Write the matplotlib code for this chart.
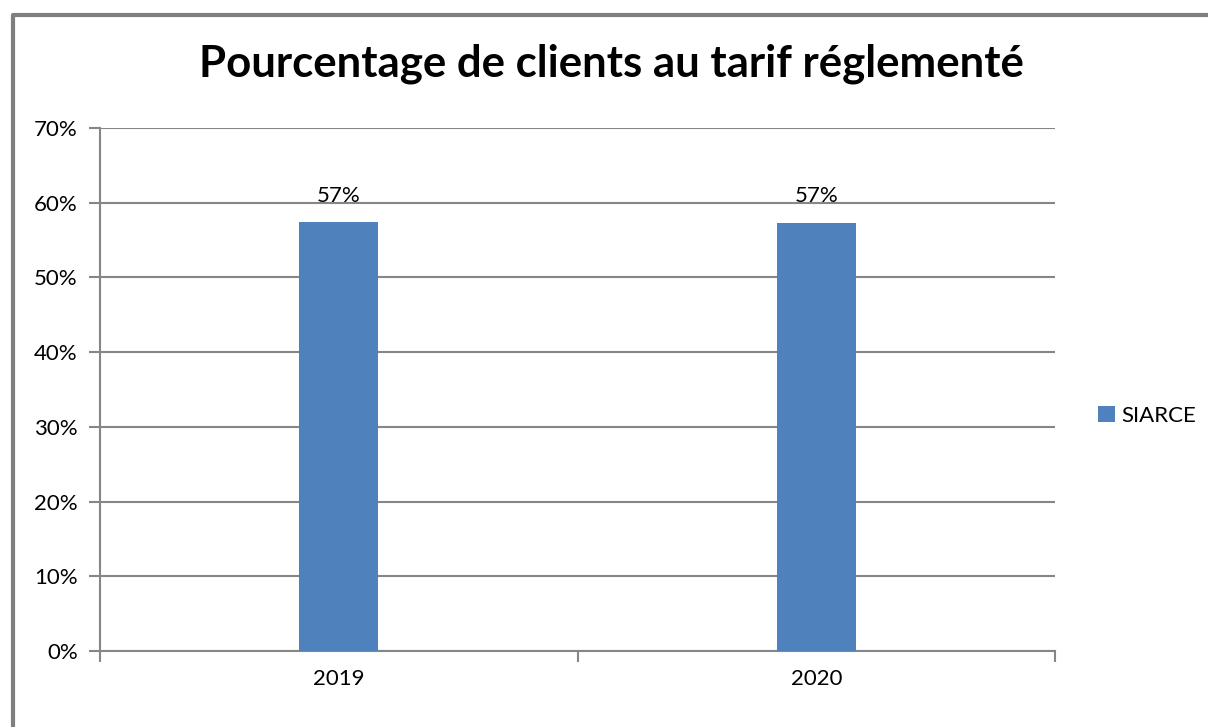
import matplotlib.pyplot as plt
from matplotlib.lines import Line2D
from matplotlib.ticker import FuncFormatter

years = ['2019', '2020']
siarce = [0.574, 0.573]
labels = ['57%', '57%']

W, H = 1208, 727
fig = plt.figure(figsize=(W / 100, H / 100), dpi=100)
plt.rcParams['font.family'] = ['Lato', 'DejaVu Sans']

# outer frame (cut by the image on the right and bottom)
fig.lines.append(Line2D([13 / W, 13 / W, 1.05], [-0.05, 1 - 14.5 / H, 1 - 14.5 / H],
                        transform=fig.transFigure, color='#7f7f7f', lw=3))

ax = fig.add_axes([100 / W, 1 - 651 / H, 955 / W, 523 / H])
x = [0, 1]
bars = ax.bar(x, siarce, width=0.165, color='#4f81bd', label='SIARCE', zorder=3)
for xi, v, t in zip(x, siarce, labels):
    ax.text(xi, 0.6005, t, ha='center', va='baseline', fontsize=16, zorder=4)

ax.set_xlim(-0.5, 1.5)
ax.set_ylim(0, 0.7)
ax.set_yticks([i / 10 for i in range(8)])
ax.yaxis.set_major_formatter(FuncFormatter(lambda v, p: '%d%%' % round(v * 100)))
ax.grid(axis='y', color='#868686', lw=1.5, zorder=0)
ax.set_xticks(x)
ax.set_xticklabels(years)
ax.set_xticks([-0.5, 0.5, 1.5], minor=True)
ax.tick_params(axis='x', which='major', length=0, pad=13, labelsize=16)
ax.tick_params(axis='x', which='minor', length=8, width=1.5, color='#868686')
ax.tick_params(axis='y', length=8, width=1.5, color='#868686', labelsize=16, pad=8)
for s in ['top', 'right']:
    ax.spines[s].set_visible(False)
for s in ['left', 'bottom']:
    ax.spines[s].set_color('#868686')
    ax.spines[s].set_linewidth(1.5)

fig.text(611 / W, 1 - 76 / H, 'Pourcentage de clients au tarif réglementé',
         ha='center', va='baseline', fontsize=31.5, fontweight='bold')

ax.legend(loc='center left', bbox_to_anchor=(1078 / W, 1 - 416 / H),
          bbox_transform=fig.transFigure, frameon=False, fontsize=16,
          handlelength=0.75, handleheight=0.75, handletextpad=0.3)

fig.savefig('out.png', dpi=100)
